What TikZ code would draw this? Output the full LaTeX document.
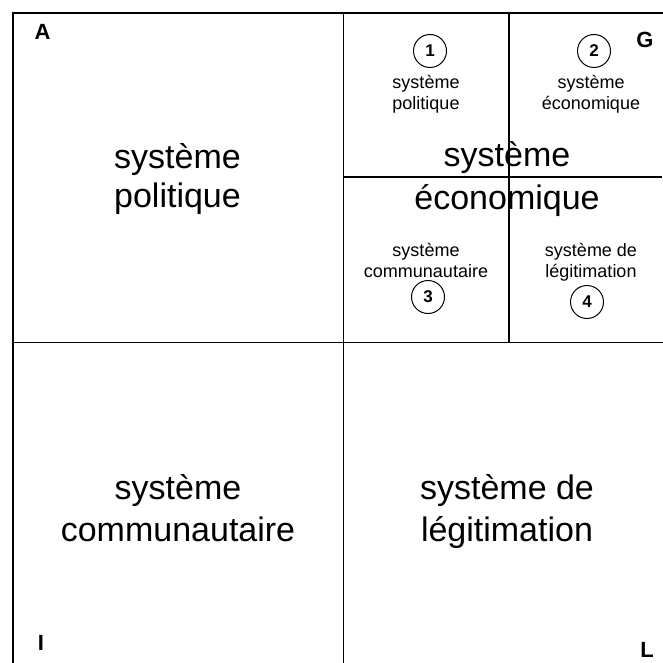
\documentclass[tikz,border=0pt]{standalone}
\usepackage{fontspec}
\setmainfont{Liberation Sans}
\begin{document}
\begin{tikzpicture}[x=1pt,y=-1pt,
  frame/.style={line width=1.6pt,line cap=rect},
  inner/.style={line width=1.3pt},
  big/.style={anchor=base,inner sep=0pt,font=\fontsize{34}{39}\selectfont},
  small/.style={anchor=base,inner sep=0pt,font=\fontsize{18}{21}\selectfont},
  corner/.style={anchor=base,inner sep=0pt,font=\fontsize{22}{26}\selectfont\bfseries},
  num/.style={circle,draw,line width=1pt,minimum size=33pt,inner sep=0pt,font=\fontsize{17}{20}\selectfont\bfseries}]
\useasboundingbox (0,0) rectangle (662,663);
% coordinates
\coordinate (tl) at (13,13);
\coordinate (tr) at (662,13);
\coordinate (bl) at (13,663);
\coordinate (mt) at (343.5,13);
\coordinate (mb) at (343.5,663);
\coordinate (ml) at (13,342.5);
\coordinate (mr) at (662,342.5);
\coordinate (it) at (509,13);
\coordinate (ib) at (509,342.5);
\coordinate (il) at (343.5,177);
\coordinate (ir) at (662,177);
% frame
\draw[frame] (bl) -- (tl) -- (tr);
\draw[frame] (mt) -- (mb);
\draw[frame] (ml) -- (mr);
\draw[inner] (it) -- (ib);
\draw[inner] (il) -- (ir);
% corner letters
\node[corner] (A) at (42.5,39.5) {A};
\node[corner] (G) at (645,48) {G};
\node[corner] (I) at (41,650) {I};
\node[corner] (L) at (647,657) {L};
% big texts
\node[big] (p1) at (177.5,168) {système};
\node[big] (p2) at (177.5,207.5) {politique};
\node[big] (e1) at (507,167) {système};
\node[big] (e2) at (507,209) {économique};
\node[big] (c1) at (178,499) {système};
\node[big] (c2) at (178,541) {communautaire};
\node[big] (l1) at (507,499) {système de};
\node[big] (l2) at (507,541) {légitimation};
% small texts
\node[num] (n1) at (430,51) {1};
\node[small] (s1a) at (426,89) {système};
\node[small] (s1b) at (426,110) {politique};
\node[num] (n2) at (594,51) {2};
\node[small] (s2a) at (591,89) {système};
\node[small] (s2b) at (591,110) {économique};
\node[small] (s3a) at (426,256.5) {système};
\node[small] (s3b) at (426,277.5) {communautaire};
\node[num] (n3) at (428,297) {3};
\node[small] (s4a) at (591,256.5) {système de};
\node[small] (s4b) at (591,277.5) {légitimation};
\node[num] (n4) at (587,302) {4};
\end{tikzpicture}
\end{document}
